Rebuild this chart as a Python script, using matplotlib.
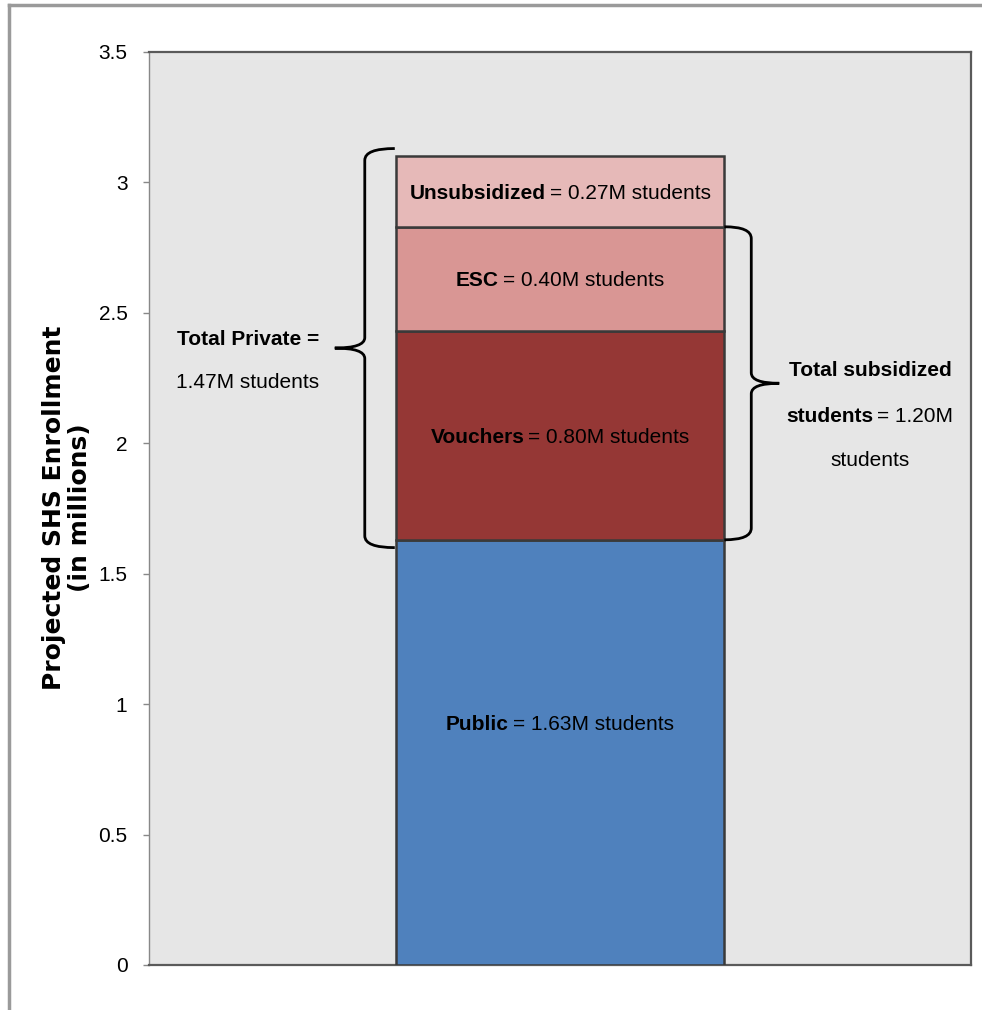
import matplotlib
matplotlib.use('Agg')
import matplotlib.pyplot as plt
from matplotlib.path import Path
from matplotlib.patches import PathPatch
from matplotlib.lines import Line2D
from matplotlib.transforms import offset_copy
import numpy as np

# data (millions of students)
segments = ['Public', 'Vouchers', 'ESC', 'Unsubsidized']
values = [1.63, 0.80, 0.40, 0.27]
colors = ['#4F81BD', '#953735', '#D99694', '#E6B9B8']
yticks = [0, 0.5, 1, 1.5, 2, 2.5, 3, 3.5]
ytick_labels = ['0', '0.5', '1', '1.5', '2', '2.5', '3', '3.5']
total_private = 1.47
total_subsidized = 1.20

NARROW = ['Liberation Sans Narrow', 'Liberation Sans', 'DejaVu Sans']

fig = plt.figure(figsize=(9.82, 10.1), dpi=100)
ax = fig.add_axes([149/982, 45/1010, 822/982, 913/1010])
ax.set_facecolor('#E6E6E6')

bottoms = np.concatenate([[0], np.cumsum(values)[:-1]])
ax.bar(0, values, width=0.4, bottom=bottoms, color=colors,
       edgecolor='#3a3a3a', linewidth=1.8, zorder=3)

ax.set_xlim(-0.5, 0.5)
ax.set_ylim(0, 3.5)
ax.set_xticks([])
ax.set_yticks(yticks)
ax.set_yticklabels(ytick_labels, family=NARROW, fontsize=15)
ax.tick_params(axis='y', direction='out', length=4.5, width=1, color='#888888', pad=11)

for s in ['top', 'right', 'bottom']:
    ax.spines[s].set_color('#5a5a5a')
    ax.spines[s].set_linewidth(1.6)
ax.spines['left'].set_color('#888888')
ax.spines['left'].set_linewidth(1)

# y label
fig.text(54/982, 1 - 508/1010, 'Projected SHS Enrollment', rotation=90,
         ha='center', va='center', fontsize=18, fontweight='bold', family='DejaVu Sans')
fig.text(80/982, 1 - 508/1010, '(in millions)', rotation=90,
         ha='center', va='center', fontsize=18, fontweight='bold', family='DejaVu Sans')

# figure frame lines (top and left)
fig.add_artist(Line2D([9/982, 1], [1 - 5/1010, 1 - 5/1010], transform=fig.transFigure,
                      color='#9a9a9a', lw=2.5))
fig.add_artist(Line2D([9/982, 9/982], [0, 1 - 5/1010], transform=fig.transFigure,
                      color='#9a9a9a', lw=2.5))

renderer = fig.canvas.get_renderer()


def mixed_line(xc, y, parts, size=15, gap=4):
    texts = []
    for s, w in parts:
        t = ax.text(xc, y, s, fontsize=size, fontweight=w, ha='left',
                    va='center_baseline', family=NARROW, zorder=5)
        texts.append(t)
    widths = [t.get_window_extent(renderer).width for t in texts]
    total = sum(widths) + gap * (len(widths) - 1)
    off = -total / 2
    for t, w in zip(texts, widths):
        t.set_transform(offset_copy(ax.transData, fig=fig, x=off, y=0, units='dots'))
        off += w + gap


tops = np.cumsum(values)
label_y = [0.93] + list((bottoms[1:] + tops[1:]) / 2)
for name, v, yy in zip(segments, values, label_y):
    mixed_line(0, yy, [(name, 'bold'), ('= %.2fM students' % v, 'normal')])


def brace(x_open, x_spine, x_tip, y0, y1, r=0.045, rt=0.04):
    ym = (y0 + y1) / 2
    verts = [(x_open, y1), (x_spine, y1), (x_spine, y1 - r),
             (x_spine, ym + rt), (x_spine, ym), (x_tip, ym),
             (x_spine, ym), (x_spine, ym - rt),
             (x_spine, y0 + r), (x_spine, y0), (x_open, y0)]
    codes = [Path.MOVETO, Path.CURVE3, Path.CURVE3,
             Path.LINETO, Path.CURVE3, Path.CURVE3,
             Path.CURVE3, Path.CURVE3,
             Path.LINETO, Path.CURVE3, Path.CURVE3]
    ax.add_patch(PathPatch(Path(verts, codes), fill=False, lw=2, color='black',
                           zorder=4, clip_on=False))
    return ym


# left brace: all private segments
ym = brace(-0.201, -0.2375, -0.274, bottoms[1] - 0.03, tops[-1] + 0.03)
mixed_line(-0.38, ym + 0.042, [('Total Private =', 'bold')])
mixed_line(-0.38, ym - 0.123, [('%.2fM students' % total_private, 'normal')])

# right brace: subsidized segments (vouchers + ESC)
ym = brace(0.2, 0.2327, 0.2667, bottoms[1], tops[2])
mixed_line(0.377, ym + 0.057, [('Total subsidized', 'bold')])
mixed_line(0.377, ym - 0.12, [('students', 'bold'), ('= %.2fM' % total_subsidized, 'normal')])
mixed_line(0.377, ym - 0.288, [('students', 'normal')])

fig.savefig('out.png', dpi=100)
